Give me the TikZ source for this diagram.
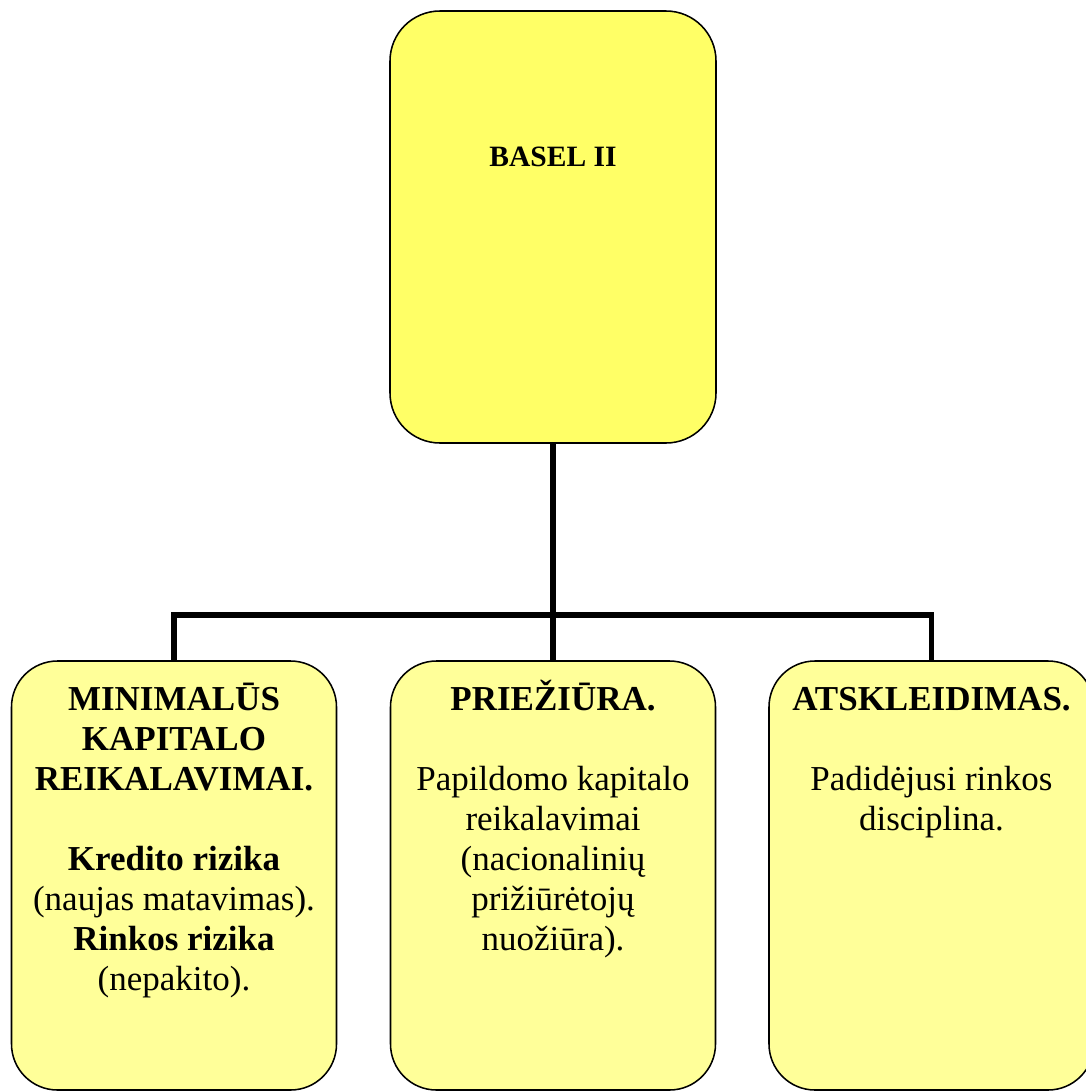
\documentclass[tikz,border=0pt]{standalone}
\usepackage{fontspec}
\setmainfont{Liberation Serif}
\usetikzlibrary{positioning}
\definecolor{baselfill}{HTML}{FFFF66}
\definecolor{pillarfill}{HTML}{FFFF99}
\newcommand{\firstrule}{\rule{0pt}{0.9cm}}

\begin{document}
\begin{tikzpicture}[
    box/.style={draw, line width=1.1pt, inner sep=0pt, outer sep=0pt, minimum width=8.125cm},
    pillar/.style={box, fill=pillarfill, rounded corners=1.15cm, minimum height=10.725cm},
    txt/.style={inner sep=0pt, align=center, font=\fontsize{24.9pt}{28.45pt}\selectfont},
    bus/.style={line width=3.6pt}
    ]
    \useasboundingbox (0,0) rectangle (27.125,-27.275);

    \node[box, fill=baselfill, rounded corners=1.25cm, minimum width=8.15cm, minimum height=10.8cm] (basel) at (13.825,-5.675) {};
    \node[pillar] (kap) at (4.35,-21.8875) {};
    \node[pillar] (prie) at (13.825,-21.8875) {};
    \node[pillar] (atsk) at (23.2875,-21.8875) {};

    \node[anchor=base, inner sep=0pt, font=\fontsize{21pt}{24pt}\selectfont\bfseries] (baseltxt) at (13.825,-4.15) {BASEL II};

    \node[txt, below=0.325 of kap.north] (kaptxt) {\firstrule\textbf{MINIMALŪS}\\ \textbf{KAPITALO}\\ \textbf{REIKALAVIMAI.}\\[1cm]
        \textbf{Kredito rizika}\\ (naujas matavimas).\\ \textbf{Rinkos rizika}\\ (nepakito).};
    \node[txt, below=0.325 of prie.north] (prietxt) {\firstrule\textbf{PRIEŽIŪRA.}\\[1cm]
        Papildomo kapitalo\\ reikalavimai\\ (nacionalinių\\ prižiūrėtojų\\ nuožiūra).};
    \node[txt, below=0.325 of atsk.north] (atsktxt) {\firstrule\textbf{ATSKLEIDIMAS.}\\[1cm]
        Padidėjusi rinkos\\ disciplina.};

    \coordinate (hub) at (13.825,-15.375);
    \draw[bus] (basel.south) -- (prie.north);
    \draw[bus] (kap.north) |- (hub) -| (atsk.north);
\end{tikzpicture}
\end{document}
